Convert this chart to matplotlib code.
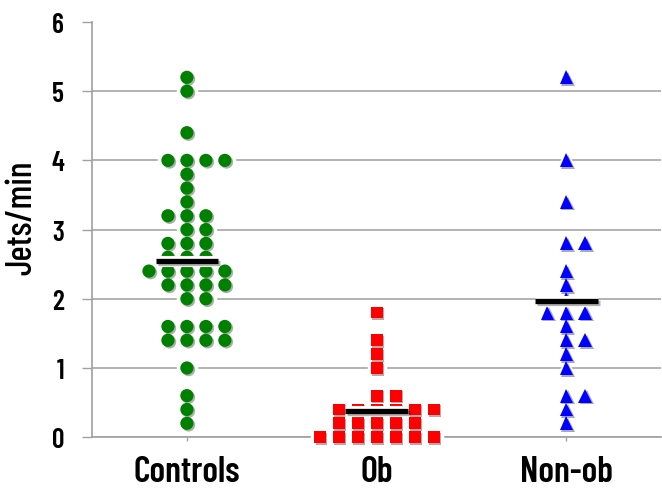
import matplotlib
matplotlib.use('Agg')
import matplotlib.pyplot as plt
import matplotlib.patheffects as pe
import numpy as np

groups = ['Controls', 'Ob', 'Non-ob']

controls = [5.2, 5.0, 4.4, 4.0, 4.0, 4.0, 4.0, 3.8, 3.6, 3.4, 3.2, 3.2, 3.2,
            3.0, 3.0, 2.8, 2.8, 2.8, 2.6, 2.6, 2.6, 2.4, 2.4, 2.4, 2.4, 2.4,
            2.2, 2.2, 2.2, 2.2, 2.0, 2.0, 1.6, 1.6, 1.6, 1.6, 1.4, 1.4, 1.4,
            1.4, 1.0, 0.6, 0.4, 0.2]
ob = [1.8, 1.4, 1.2, 1.0, 0.6, 0.6, 0.4, 0.4, 0.4, 0.4, 0.4, 0.4,
      0.2, 0.2, 0.2, 0.2, 0.2, 0.0, 0.0, 0.0, 0.0, 0.0, 0.0, 0.0]
nonob = [5.2, 4.0, 3.4, 2.8, 2.8, 2.4, 2.2, 2.0, 1.8, 1.8, 1.8, 1.6,
         1.4, 1.4, 1.2, 1.0, 0.6, 0.6, 0.4, 0.2]
means = [2.55, 0.38, 1.97]

plt.rcParams['font.family'] = ['Barlow Condensed', 'DejaVu Sans']


def dot_offsets(vals, step=0.1):
    # stack equal values side by side, prism style
    vals = np.round(np.asarray(vals, float), 2)
    off = np.zeros(len(vals))
    for v in np.unique(vals):
        idx = np.where(vals == v)[0]
        n = len(idx)
        start = -((n - 1) // 2)
        off[idx] = (start + np.arange(n)) * step
    return off


fig = plt.figure(figsize=(6.62, 4.89), dpi=100)
ax = fig.add_axes([0.139, 0.104, 0.860, 0.849])

styles = [('o', '#008000', 9.5), ('s', '#ff0000', 8.5), ('^', '#0000ff', 10)]
shadow = [pe.SimplePatchShadow(offset=(1.2, -1.2), alpha=0.35), pe.Normal()]

for i, (vals, (mk, col, ms)) in enumerate(zip([controls, ob, nonob], styles)):
    x = i + dot_offsets(vals)
    ax.plot(x, vals, ls='none', marker=mk, ms=ms + 5, color='white',
            mec='white', zorder=3, clip_on=False)
    ax.plot(x, vals, ls='none', marker=mk, ms=ms, color=col, mec=col,
            mew=0, zorder=4, clip_on=False, path_effects=shadow)
    ax.plot([i - 0.165, i + 0.165], [means[i], means[i]], color='black', lw=3.8,
            solid_capstyle='butt', zorder=5,
            path_effects=[pe.Stroke(linewidth=8, foreground='white'),
                          pe.SimpleLineShadow(offset=(1.5, -1.5), alpha=0.3),
                          pe.Normal()])

ax.set_xlim(-0.5, 2.5)
ax.set_ylim(0, 6)
ax.set_yticks(range(7))
ax.set_xticks(range(3))
ax.set_xticklabels(groups, fontsize=26)
ax.tick_params(axis='y', length=7, width=1, color='#a0a0a0', pad=13, labelsize=20)
ax.tick_params(axis='x', length=3, width=1, color='#a0a0a0', pad=10)
for lab in ax.get_yticklabels() + ax.get_xticklabels():
    lab.set_fontweight(600)

ax.yaxis.grid(True, color='#a6a6a6', lw=1.2)
ax.get_ygridlines()[-1].set_visible(False)
ax.set_axisbelow(True)
for s in ['top', 'right']:
    ax.spines[s].set_visible(False)
for s in ['left', 'bottom']:
    ax.spines[s].set_color('#a0a0a0')
    ax.spines[s].set_linewidth(1.2)

ax.set_ylabel('Jets/min', fontsize=26, fontweight=500, va='center')
ax.yaxis.set_label_coords(-0.123, 0.53)

fig.savefig('out.png', dpi=100)
